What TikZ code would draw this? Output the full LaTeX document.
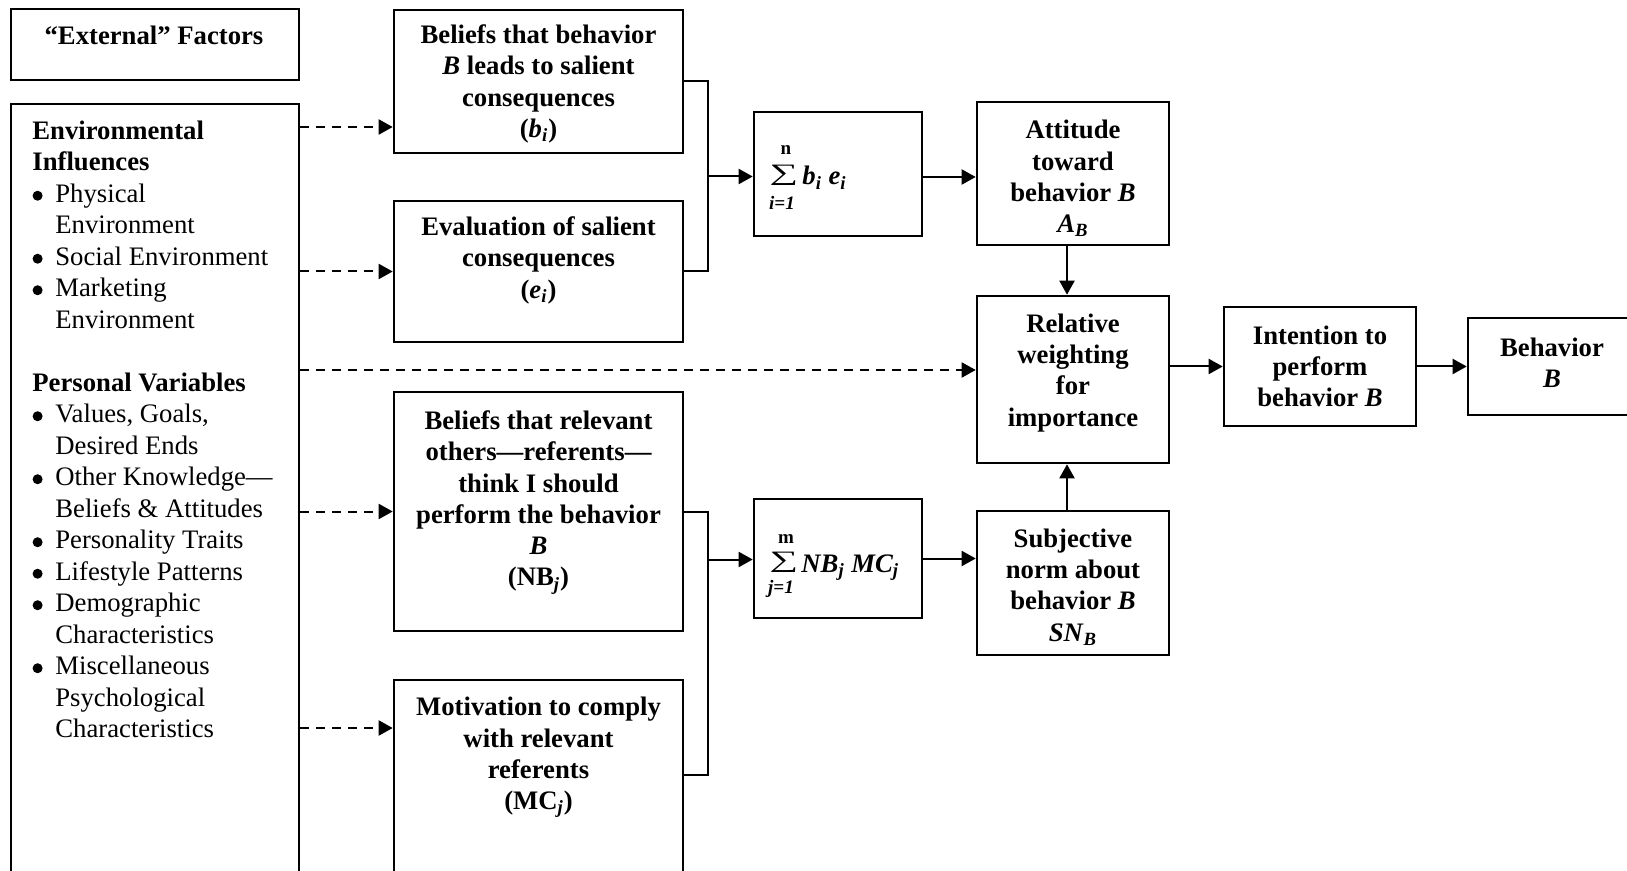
\documentclass[tikz,border=0pt]{standalone}
\usepackage{fontspec}
\usepackage{graphicx}
\setmainfont{Liberation Serif}
\usetikzlibrary{arrows.meta}
% italic subscript, summation sign and list helpers
\newcommand\sbi[1]{\textsubscript{\itshape #1}}
\newcommand\sumsign{\scalebox{1.5}[0.88]{∑}}
\newcommand\dotb{\tikz[baseline=0pt,x=1pt,y=1pt]{\path (0pt,0pt); \fill (2.6pt,3.35pt) circle[radius=2.5pt];}}
\newcommand\itm{\makebox[11.5pt][l]{\dotb}}
\newcommand\cnt{\hspace*{11.5pt}}
\begin{document}
\begin{tikzpicture}[x=0.5pt,y=-0.5pt,
  box/.style={draw, line width=1.3pt, inner sep=0pt, rectangle},
  wh/.style 2 args={minimum width=#1*0.5pt, minimum height=#2*0.5pt},
  txt/.style={inner sep=0pt, align=center, anchor=north,
    font=\fontsize{13.35}{15.6}\selectfont\bfseries},
  lefttxt/.style={inner sep=0pt, align=left, anchor=north west,
    font=\fontsize{13.35}{15.75}\selectfont},
  big/.style={inner sep=0pt, anchor=base, font=\fontsize{13.35}{15.6}\selectfont},
  sigma/.style={inner sep=0pt, anchor=center, font=\fontsize{13.35}{15.6}\selectfont},
  small/.style={inner sep=0pt, anchor=base, font=\fontsize{9.5}{11}\selectfont\bfseries},
  link/.style={line width=1pt},
  arrow/.style={link, -{Triangle[length=7pt,width=7.5pt]}},
  dasharrow/.style={arrow, dash pattern=on 4.5pt off 3.5pt},
]
\fill[white] (0,0) rectangle (1627,871);
\useasboundingbox (0,0) rectangle (1627,871);
\clip (0,0) rectangle (1627,871);

% ---- boxes ----
\node[box, wh={288}{71}]  (ext) at (155,44.5) {};
\node[box, wh={288}{776}] (env) at (155,492) {};
\node[box, wh={289}{143}] (bi)  at (538.5,81.5) {};
\node[box, wh={289}{141}] (ei)  at (538.5,271.5) {};
\node[box, wh={289}{239}] (nb)  at (538.5,511.5) {};
\node[box, wh={289}{200}] (mc)  at (538.5,780) {};
\node[box, wh={168}{124}] (s1)  at (838,174) {};
\node[box, wh={168}{119}] (s2)  at (838,558.5) {};
\node[box, wh={192}{143}] (att) at (1073,173.5) {};
\node[box, wh={192}{167}] (rel) at (1073,379.5) {};
\node[box, wh={192}{144}] (sub) at (1073,583) {};
\node[box, wh={192}{119}] (int) at (1320,366.5) {};
\node[box, wh={172}{97}]  (beh) at (1554,366.5) {};

% ---- texts ----
\node[txt] (ext-t) at (154,25.5) {“External” Factors};
\node[lefttxt] (env-t) at (32,120.5) {%
\textbf{Environmental}\\
\textbf{Influences}\\
\itm Physical\\
\cnt Environment\\
\itm Social Environment\\
\itm Marketing\\
\cnt Environment\\
~\\
\textbf{Personal Variables}\\
\itm Values, Goals,\\
\cnt Desired Ends\\
\itm Other Knowledge—\\
\cnt Beliefs \& Attitudes\\
\itm Personality Traits\\
\itm Lifestyle Patterns\\
\itm Demographic\\
\cnt Characteristics\\
\itm Miscellaneous\\
\cnt Psychological\\
\cnt Characteristics};
\node[txt] (bi-t) at (538.5,24.5) {Beliefs that behavior\\\textit{B} leads to salient\\consequences\\(\textit{b}\sbi{i})};
\node[txt] (ei-t) at (538.5,216.5) {Evaluation of salient\\consequences\\(\textit{e}\sbi{i})};
\node[txt] (nb-t) at (538.5,410.5) {Beliefs that relevant\\others—referents—\\think I should\\perform the behavior\\\textit{B}\\(NB\sbi{j})};
\node[txt] (mc-t) at (538.5,697) {Motivation to comply\\with relevant\\referents\\(MC\sbi{j})};
\node[txt] (att-t) at (1073,120) {Attitude\\toward\\behavior \textit{B}\\\textit{A}\sbi{B}};
\node[txt] (rel-t) at (1073,313.5) {Relative\\weighting\\for\\importance};
\node[txt] (sub-t) at (1073,528.5) {Subjective\\norm about\\behavior \textit{B}\\\textit{SN}\sbi{B}};
\node[txt] (int-t) at (1320,325.5) {Intention to\\perform\\behavior \textit{B}};
\node[txt] (beh-t) at (1552,337.5) {Behavior\\\textit{B}};

% ---- summations ----
\node[sigma] (sig1) at (784,175) {\sumsign};
\node[small] (sig1-top) at (786,155) {n};
\node[small] (sig1-bot) at (782,210) {\itshape i=1};
\node[big, anchor=base west] (sig1-t) at (802,185) {\bfseries\itshape b\textsubscript{i} e\textsubscript{i}};
\node[sigma] (sig2) at (784,562) {\sumsign};
\node[small] (sig2-top) at (786,543) {m};
\node[small] (sig2-bot) at (781,593) {\itshape j=1};
\node[big, anchor=base west] (sig2-t) at (801,572) {\bfseries\itshape NB\textsubscript{j} MC\textsubscript{j}};

% ---- joints ----
\coordinate (j1) at (708,176.5);
\coordinate (j2) at (708,559.5);
\coordinate (j2b) at (708,775);
\coordinate (d1) at (0,127);
\coordinate (d3) at (0,370);
\coordinate (d5) at (0,728);
\coordinate (a1) at (0,177);
\coordinate (v1) at (1067,0);

% ---- dashed influences ----
\draw[dasharrow] (env.east |- d1) -- (bi.west |- d1);
\draw[dasharrow] (env.east |- ei.west) -- (ei.west);
\draw[dasharrow] (env.east |- d3) -- (rel.west |- d3);
\draw[dasharrow] (env.east |- nb.west) -- (nb.west);
\draw[dasharrow] (env.east |- d5) -- (mc.west |- d5);

% ---- brackets and arrows ----
\draw[link] (bi.east) -| (j1) |- (ei.east);
\draw[arrow] (j1) -- (s1.west |- j1);
\draw[link] (nb.east) -| (j2b) -- (mc.east |- j2b);
\draw[arrow] (j2) -- (s2.west |- j2);
\draw[arrow] (s1.east |- a1) -- (att.west |- a1);
\draw[arrow] (s2.east) -- (sub.west |- s2.east);
\draw[arrow] (att.south -| v1) -- (rel.north -| v1);
\draw[arrow] (sub.north -| v1) -- (rel.south -| v1);
\draw[arrow] (rel.east |- int.west) -- (int.west);
\draw[arrow] (int.east) -- (beh.west |- int.east);
\end{tikzpicture}
\end{document}
